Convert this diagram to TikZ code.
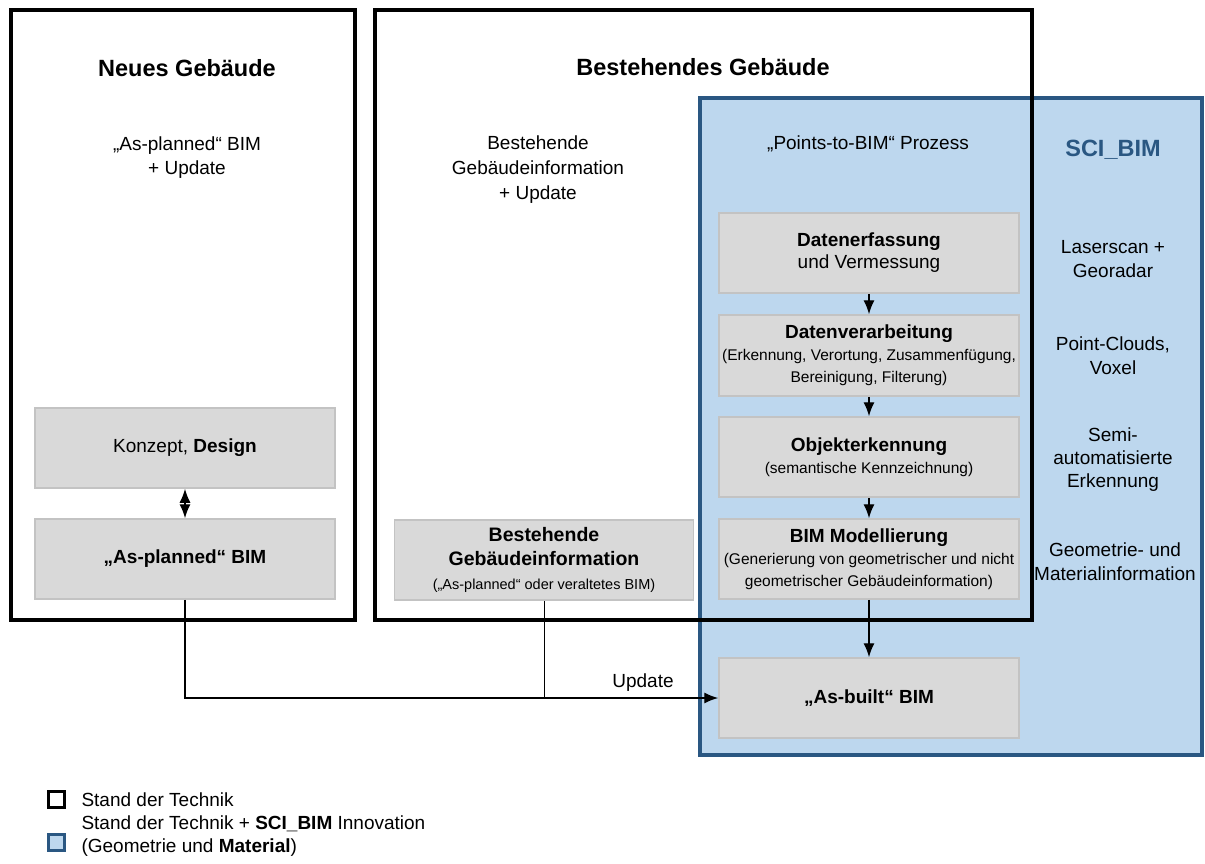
\documentclass[tikz,border=0pt]{standalone}
\usepackage{fontspec}
\setmainfont{Liberation Sans}
\usepackage{xcolor}
\usepackage{tikz}
\usetikzlibrary{calc, positioning, arrows.meta}

\definecolor{sciblue}{HTML}{BDD7EE}
\definecolor{scidark}{HTML}{2A5782}
\definecolor{boxfill}{HTML}{D9D9D9}
\definecolor{boxline}{HTML}{C3C3C3}

\newcommand{\normtxt}{\fontsize{19}{24}\selectfont}
\newcommand{\subtxt}{\fontsize{15.5}{19}\selectfont}

\tikzset{
    greybox/.style={draw=boxline, fill=boxfill, line width=1.5pt, minimum width=300pt,
        minimum height=80pt, align=center, font=\fontsize{19}{22}\selectfont, inner sep=2pt},
    frame/.style={draw=black, line width=3.2pt},
    title/.style={font=\fontsize{23.5}{28}\selectfont\bfseries},
    label/.style={align=center, font=\normtxt},
    conn/.style={line width=1.4pt},
}

\begin{document}
\begin{tikzpicture}[>={Latex[length=14pt,width=11pt]}, x=1pt, y=-1pt]
    \useasboundingbox (0,0) rectangle (1205,863);

    % SCI_BIM Bereich
    \draw[fill=sciblue, draw=scidark, line width=3.4pt] (700,98) rectangle (1202,755);

    % Rahmen Stand der Technik
    \draw[frame] (11,10) rectangle (355,620);
    \draw[frame] (375,10) rectangle (1032,620);

    % Titel und Beschriftungen
    \node[title] (tneu) at (187,68) {Neues Gebäude};
    \node[title] (tbest) at (703,67) {Bestehendes Gebäude};
    \node[label] (lneu) at (187,158) {„As-planned“ BIM\\+ Update};
    \node[label, font=\fontsize{19}{25}\selectfont] (lbest) at (538,170) {Bestehende\\Gebäudeinformation\\+ Update};
    \node[label] (lptb) at (868,144) {„Points-to-BIM“ Prozess};
    \node[title, text=scidark] (tsci) at (1113,150) {SCI\_BIM};
    \node[label] (r1) at (1113,259) {Laserscan +\\Georadar};
    \node[label] (r2) at (1113,356) {Point-Clouds,\\Voxel};
    \node[label, font=\fontsize{19}{23}\selectfont] (r3) at (1113,460) {Semi-\\automatisierte\\Erkennung};
    \node[label] (r4) at (1115,562) {Geometrie- und\\Materialinformation};

    % Kästen
    \node[greybox] (konzept) at (185,448) {Konzept, \textbf{Design}};
    \node[greybox] (asplanned) at (185,559) {\textbf{„As-planned“ BIM}};
    \node[greybox, minimum width=299pt, font=\fontsize{19.5}{24}\selectfont] (bestand) at (544,560)
        {\textbf{Bestehende}\\\textbf{Gebäudeinformation}\\{\fontsize{14.5}{18}\selectfont(„As-planned“ oder veraltetes BIM)}};
    \node[greybox] (erfassung) at (869,253) {\textbf{Datenerfassung}\\und Vermessung};
    \node[greybox, minimum height=81pt] (verarbeitung) at (869,355.5)
        {\textbf{Datenverarbeitung}\\{\subtxt (Erkennung, Verortung, Zusammenfügung,}\\{\subtxt Bereinigung, Filterung)}};
    \node[greybox] (objekt) at (869,457) {\textbf{Objekterkennung}\\{\subtxt (semantische Kennzeichnung)}};
    \node[greybox] (modell) at (869,559)
        {\textbf{BIM Modellierung}\\{\subtxt (Generierung von geometrischer und nicht}\\{\subtxt geometrischer Gebäudeinformation)}};
    \node[greybox] (asbuilt) at (869,698) {\textbf{„As-built“ BIM}};

    % Verbindungen
    \draw[<->, conn] (konzept) -- (asplanned);
    \draw[->, conn] (erfassung) -- (verarbeitung);
    \draw[->, conn] (verarbeitung) -- (objekt);
    \draw[->, conn] (objekt) -- (modell);
    \draw[->, conn] (modell) -- (asbuilt);
    \draw[->, conn] (asplanned.south) |- (asbuilt.west);
    \coordinate (join) at (bestand.south |- asbuilt.west);
    \draw[line width=0.8pt] (bestand.south) -- (join);
    \node[font=\normtxt] (update) at (643,683) {Update};

    % Legende
    \node[draw=black, line width=3.2pt, minimum size=16pt, inner sep=0pt] (legsdt) at (56.5,799.5) {};
    \node[draw=scidark, fill=sciblue, line width=3pt, minimum size=16pt, inner sep=0pt] (legsci) at (56.5,842) {};
    \node[font=\normtxt, anchor=west] (txtsdt) at (78,799.5) {Stand der Technik};
    \node[font=\fontsize{19}{23}\selectfont, anchor=west, align=left] (txtsci) at (78,836)
        {Stand der Technik + \textbf{SCI\_BIM} Innovation\\(Geometrie und \textbf{Material})};
\end{tikzpicture}
\end{document}
